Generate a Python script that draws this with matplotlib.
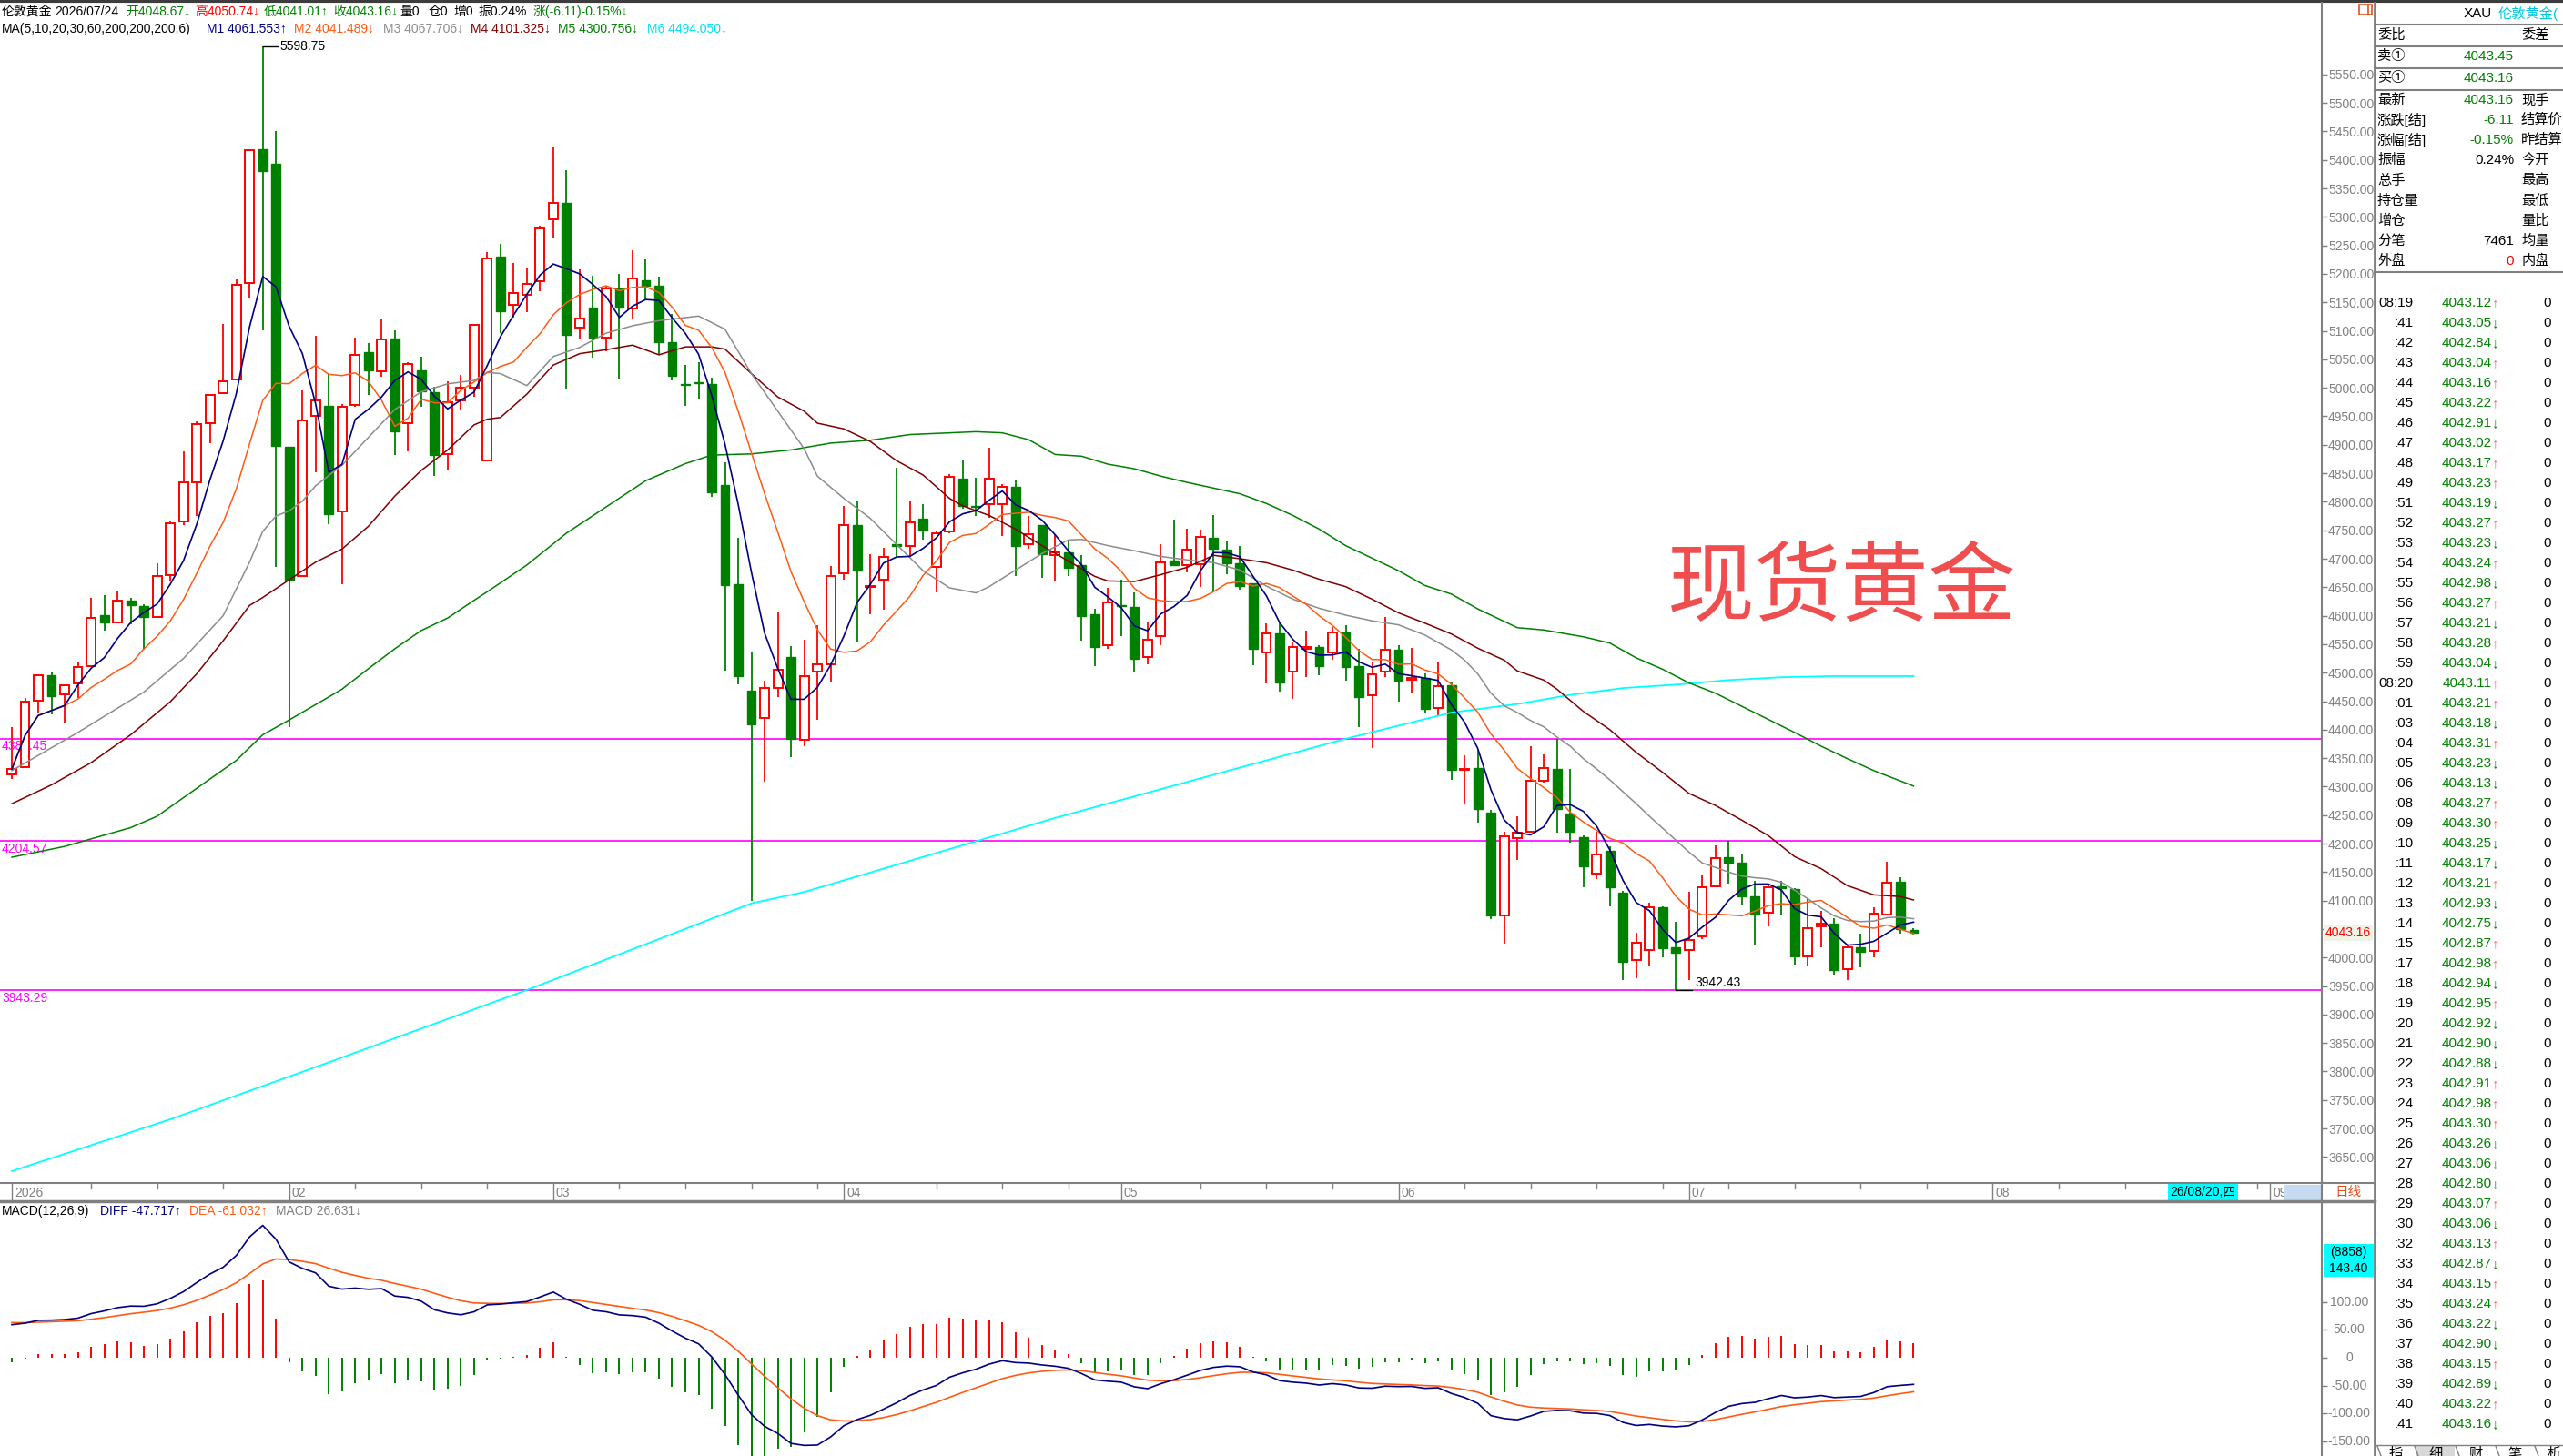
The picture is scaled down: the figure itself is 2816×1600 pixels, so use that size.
import matplotlib
matplotlib.use("Agg")
import matplotlib.pyplot as plt
from matplotlib.patches import Rectangle
from matplotlib.ticker import FormatStrFormatter
import numpy as np
import pandas as pd

plt.rcParams["font.family"] = ["Liberation Sans", "Noto Sans CJK SC", "DejaVu Sans"]
plt.rcParams["font.size"] = 10

# -----------------------------------------------
# 1. 日线数据 (2026-01-02 .. 2026-07-24)
# -----------------------------------------------
opens = [
    4321.9, 4334.4, 4450.5, 4495.1, 4461.2, 4481.7, 4511.2, 4600.5, 4588.9, 4627.3,
    4616.5, 4597.8, 4671.9, 4765.7, 4834.4, 4938.0, 4990.7, 5014.8, 5184.4, 5418.4,
    5392.5, 4896.9, 4670.1, 4950.5, 4968.3, 4783.5, 4969.2, 5063.0, 5029.1, 5087.1,
    4938.0, 5030.8, 4991.6, 4883.5, 4978.2, 5000.5, 4872.8, 5230.0, 5145.6, 5163.9,
    5187.3, 5296.1, 5324.5, 5105.0, 5140.6, 5087.7, 5174.1, 5138.5, 5188.3, 5179.2,
    5080.6, 5007.4, 5010.5, 5007.4, 4829.6, 4655.8, 4467.8, 4420.0, 4473.9, 4526.7,
    4382.4, 4501.3, 4514.5, 4674.1, 4759.4, 4650.7, 4662.9, 4724.9, 4721.8, 4769.6,
    4685.3, 4748.3, 4840.8, 4792.9, 4795.6, 4796.6, 4826.4, 4725.3, 4759.3, 4705.6,
    4711.4, 4689.1, 4602.8, 4547.9, 4618.8, 4615.6, 4528.2, 4563.9, 4697.0, 4689.6,
    4690.1, 4737.0, 4716.7, 4692.2, 4656.6, 4535.7, 4569.2, 4501.6, 4541.5, 4544.7,
    4535.2, 4570.8, 4511.7, 4460.1, 4501.6, 4540.5, 4487.2, 4491.0, 4437.7, 4477.6,
    4329.7, 4332.4, 4254.3, 4073.3, 4210.3, 4220.4, 4310.6, 4330.8, 4252.7, 4211.3,
    4146.6, 4187.4, 4114.2, 3995.8, 4013.3, 4087.6, 4018.1, 4013.3, 4037.2, 4124.8,
    4176.3, 4166.2, 4107.3, 4078.6, 4124.8, 4120.0, 4001.6, 4054.7, 4060.0, 3979.9,
    4018.6, 4011.7, 4075.4, 4133.3, 4048.67]
highs = [
    4404.0, 4455.8, 4497.8, 4500.5, 4479.9, 4517.4, 4631.7, 4636.2, 4643.3, 4631.7,
    4620.1, 4691.5, 4765.7, 4888.0, 4941.6, 4989.8, 5112.1, 5189.8, 5419.3, 5598.75,
    5451.4, 4896.9, 4996.0, 5091.6, 5023.7, 4971.0, 5088.0, 5079.1, 5120.1, 5100.5,
    5045.1, 5054.1, 5002.3, 5011.2, 5021.9, 5111.2, 5238.9, 5253.4, 5219.8, 5209.7,
    5283.9, 5422.1, 5382.4, 5208.7, 5197.5, 5177.1, 5200.5, 5242.2, 5224.9, 5194.4,
    5129.4, 5039.9, 5045.0, 5017.6, 4869.2, 4737.1, 4536.9, 4486.1, 4605.0, 4546.0,
    4557.2, 4582.6, 4687.3, 4793.0, 4801.1, 4708.6, 4719.8, 4859.0, 4801.1, 4796.0,
    4750.3, 4848.9, 4874.3, 4842.4, 4895.1, 4831.2, 4837.6, 4775.8, 4759.3, 4741.2,
    4733.2, 4705.6, 4612.9, 4649.1, 4663.0, 4641.7, 4588.4, 4725.8, 4768.9, 4753.0,
    4751.4, 4776.9, 4730.6, 4722.6, 4656.6, 4586.3, 4590.5, 4555.4, 4573.5, 4548.5,
    4581.0, 4584.1, 4541.5, 4517.6, 4598.5, 4548.5, 4543.7, 4498.9, 4517.6, 4483.0,
    4354.7, 4365.3, 4259.1, 4220.9, 4248.5, 4370.6, 4356.3, 4384.4, 4330.8, 4214.0,
    4220.9, 4195.4, 4116.8, 4044.1, 4096.7, 4089.2, 4062.7, 4115.8, 4144.4, 4196.5,
    4204.4, 4180.5, 4134.4, 4129.0, 4134.4, 4121.1, 4102.5, 4081.3, 4069.0, 4021.3,
    4041.4, 4088.2, 4167.3, 4141.3, 4050.74]
lows = [
    4312.9, 4332.6, 4430.8, 4426.3, 4411.2, 4455.8, 4509.4, 4573.7, 4587.1, 4584.4,
    4539.8, 4597.8, 4661.2, 4759.4, 4774.6, 4902.3, 4990.7, 5014.8, 5158.5, 5100.5,
    4685.3, 4404.0, 4670.1, 4852.3, 4761.2, 4655.8, 4966.6, 4988.0, 5020.1, 4881.7,
    4888.0, 4966.6, 4845.1, 4854.9, 4962.1, 4984.4, 4872.8, 5095.8, 5123.3, 5133.4,
    5170.0, 5263.5, 4999.3, 5086.7, 5053.2, 5064.3, 5016.6, 5121.2, 5153.8, 5057.2,
    5012.5, 4968.8, 4979.0, 4808.2, 4503.3, 4478.9, 4099.9, 4308.2, 4457.6, 4351.9,
    4371.2, 4418.0, 4484.0, 4663.9, 4555.2, 4602.9, 4610.1, 4702.5, 4702.5, 4733.0,
    4641.6, 4745.2, 4787.9, 4775.8, 4771.6, 4740.7, 4670.4, 4718.3, 4667.2, 4660.8,
    4670.4, 4556.5, 4512.3, 4541.5, 4563.9, 4502.7, 4514.9, 4549.0, 4688.5, 4676.8,
    4651.2, 4642.7, 4673.6, 4646.4, 4513.9, 4481.9, 4467.5, 4454.8, 4492.0, 4495.2,
    4522.4, 4485.6, 4404.2, 4368.5, 4492.0, 4450.0, 4464.3, 4428.1, 4425.5, 4312.6,
    4268.7, 4236.8, 4066.9, 4023.9, 4170.5, 4220.4, 4306.9, 4219.3, 4202.3, 4122.7,
    4137.0, 4090.3, 3960.2, 3963.4, 3984.1, 4001.1, 3942.43, 3960.8, 4031.9, 4122.7,
    4129.0, 4092.9, 4022.3, 4054.2, 4073.3, 3986.8, 3984.1, 4017.6, 3969.8, 3960.2,
    3982.0, 4000.0, 4075.4, 4041.4, 4041.01]
closes = [
    4330.8, 4448.7, 4495.1, 4459.4, 4478.1, 4509.4, 4596.0, 4588.9, 4627.3, 4618.3,
    4597.8, 4670.1, 4763.0, 4834.4, 4937.1, 4988.0, 5011.2, 5180.8, 5416.6, 5380.9,
    4897.8, 4663.0, 4942.4, 4977.3, 4779.0, 4966.6, 5058.5, 5030.8, 5085.3, 4923.7,
    5041.6, 4993.3, 4881.7, 4975.5, 5000.5, 5111.2, 5227.3, 5134.5, 5166.0, 5182.2,
    5279.8, 5324.5, 5092.8, 5121.2, 5088.7, 5174.1, 5141.6, 5191.4, 5179.2, 5080.6,
    5021.7, 5005.4, 5008.5, 4816.4, 4653.8, 4494.2, 4409.8, 4472.9, 4505.4, 4384.4,
    4494.2, 4514.5, 4669.0, 4758.4, 4679.2, 4652.7, 4702.5, 4722.9, 4763.5, 4749.3,
    4744.2, 4843.8, 4793.0, 4791.8, 4840.3, 4825.9, 4722.6, 4742.8, 4708.2, 4710.9,
    4684.8, 4600.1, 4545.8, 4623.0, 4617.7, 4524.0, 4557.5, 4693.3, 4688.5, 4715.7,
    4738.0, 4718.3, 4691.7, 4652.8, 4542.6, 4568.7, 4483.5, 4544.7, 4544.7, 4512.3,
    4570.3, 4509.6, 4457.9, 4496.8, 4540.5, 4486.7, 4491.0, 4437.2, 4476.6, 4330.1,
    4330.8, 4261.2, 4073.3, 4212.4, 4219.3, 4310.1, 4331.9, 4260.2, 4220.9, 4159.8,
    4180.5, 4123.7, 3992.1, 4026.6, 4088.2, 4016.0, 4008.5, 4030.8, 4123.2, 4174.2,
    4165.7, 4106.7, 4074.9, 4123.7, 4121.1, 4001.6, 4051.0, 4060.0, 3977.7, 4018.1,
    4009.6, 4077.0, 4131.7, 4049.27, 4043.16]

# 均线 (读图取点, 第几根K线 -> 数值)
ma20_at = [1, 6, 11, 14, 17, 19, 20, 21, 22, 23, 24, 26, 28, 30, 32, 34, 36, 37, 38, 40,
           42, 44, 46, 48, 50, 53, 55, 57, 59, 61, 62, 64, 66, 68, 70, 72, 74, 75, 77, 79,
           81, 82, 84, 86, 88, 90, 92, 94, 96, 98, 100, 102, 104, 106, 108, 110, 111, 112, 113, 114,
           115, 116, 117, 118, 119, 120, 121, 122, 123, 124, 125, 126, 127, 128, 129, 130, 131, 132, 133, 134,
           135, 136, 137, 138, 139, 140, 141, 142, 143, 144, 145]
ma20_val = [4328, 4395, 4466, 4525, 4600, 4694, 4748, 4775, 4784, 4801, 4828, 4864, 4913, 4962, 4993, 5007, 5013, 5027, 5025, 5004,
            5055, 5071, 5096, 5109, 5118, 5126, 5103, 5025, 4959, 4893, 4845, 4806, 4771, 4725, 4679, 4649, 4640, 4651, 4680, 4709,
            4733, 4734, 4723, 4714, 4704, 4698, 4693, 4680, 4652, 4629, 4613, 4601, 4591, 4584, 4566, 4540, 4522, 4498, 4464, 4442,
            4430, 4416, 4405, 4387, 4371, 4349, 4331, 4312, 4291, 4270, 4248, 4227, 4206, 4185, 4166, 4158, 4150, 4143, 4140, 4138,
            4132, 4118, 4103, 4087, 4073, 4065, 4063, 4064, 4070, 4071, 4068]
ma30_at = [1, 4, 7, 10, 13, 15, 17, 19, 20, 22, 24, 26, 28, 30, 32, 34, 36, 37, 38, 40,
           42, 44, 46, 48, 50, 52, 54, 55, 57, 59, 61, 62, 64, 66, 68, 70, 72, 73, 75, 77,
           79, 81, 83, 84, 86, 88, 90, 92, 94, 96, 98, 100, 102, 104, 106, 108, 110, 112, 114, 115,
           117, 118, 120, 122, 124, 126, 128, 130, 132, 134, 136, 138, 140, 142, 144, 145]
ma30_val = [4270, 4303, 4342, 4391, 4449, 4498, 4556, 4618, 4632, 4663, 4694, 4717, 4757, 4810, 4855, 4891, 4935, 4945, 4948, 4989,
            5040, 5060, 5067, 5075, 5058, 5072, 5072, 5068, 5025, 4984, 4959, 4938, 4928, 4906, 4872, 4847, 4806, 4793, 4776, 4752,
            4723, 4696, 4669, 4661, 4660, 4672, 4685, 4706, 4700, 4693, 4680, 4664, 4651, 4629, 4605, 4587, 4568, 4543, 4522, 4503,
            4487, 4471, 4432, 4400, 4360, 4325, 4288, 4267, 4241, 4214, 4177, 4156, 4126, 4110, 4107, 4101]
ma60_at = [1, 5, 10, 12, 15, 18, 20, 22, 24, 26, 28, 30, 32, 34, 36, 37, 40, 43, 46, 49,
           52, 54, 57, 60, 63, 66, 69, 72, 74, 76, 78, 80, 82, 84, 86, 88, 90, 92, 94, 96,
           98, 100, 102, 104, 106, 108, 110, 112, 115, 117, 120, 122, 124, 126, 128, 130, 132, 134, 136, 138,
           140, 142, 144, 145]
ma60_val = [4176, 4195, 4228, 4248, 4297, 4346, 4391, 4417, 4444, 4471, 4507, 4542, 4574, 4596, 4627, 4642, 4689, 4745, 4791, 4837,
            4867, 4882, 4884, 4891, 4903, 4908, 4918, 4921, 4923, 4921, 4909, 4883, 4880, 4866, 4858, 4845, 4834, 4824, 4814, 4797,
            4776, 4752, 4723, 4701, 4679, 4653, 4638, 4612, 4579, 4575, 4563, 4552, 4526, 4506, 4482, 4464, 4441, 4418, 4395, 4371,
            4349, 4328, 4310, 4301]
ma200_at = [1, 13, 25, 40, 57, 61, 67, 74, 80, 102, 110, 115, 119, 123, 127, 131, 135, 139, 145]
ma200_val = [3625, 3716, 3816, 3943, 4095, 4115, 4156, 4204, 4245, 4384, 4430, 4445, 4461, 4473, 4479, 4487, 4492, 4494, 4494]

# MACD 起始状态 (读图: DIFF≈67, DEA≈64)
ema12_start = 4365.0
ema26_start = 4298.0
dea_start = 64.0

levels = [4384.45, 4204.57, 3943.29]

tick_times = ["08:19", ":41", ":42", ":43", ":44", ":45", ":46", ":47", ":48", ":49",
              ":51", ":52", ":53", ":54", ":55", ":56", ":57", ":58", ":59", "08:20",
              ":01", ":03", ":04", ":05", ":06", ":08", ":09", ":10", ":11", ":12",
              ":13", ":14", ":15", ":17", ":18", ":19", ":20", ":21", ":22", ":23",
              ":24", ":25", ":26", ":27", ":28", ":29", ":30", ":32", ":33", ":34",
              ":35", ":36", ":37", ":38", ":39", ":40", ":41"]
tick_prices = [4043.12, 4043.05, 4042.84, 4043.04, 4043.16, 4043.22, 4042.91, 4043.02, 4043.17, 4043.23,
               4043.19, 4043.27, 4043.23, 4043.24, 4042.98, 4043.27, 4043.21, 4043.28, 4043.04, 4043.11,
               4043.21, 4043.18, 4043.31, 4043.23, 4043.13, 4043.27, 4043.30, 4043.25, 4043.17, 4043.21,
               4042.93, 4042.75, 4042.87, 4042.98, 4042.94, 4042.95, 4042.92, 4042.90, 4042.88, 4042.91,
               4042.98, 4043.30, 4043.26, 4043.06, 4042.80, 4043.07, 4043.06, 4043.13, 4042.87, 4043.15,
               4043.24, 4043.22, 4042.90, 4043.15, 4042.89, 4043.22, 4043.16]

info_left = ["最新", "涨跌[结]", "涨幅[结]", "振幅", "总手", "持仓量", "增仓", "分笔", "外盘"]
info_value = ["4043.16", "-6.11", "-0.15%", "0.24%", "", "", "", "7461", "0"]
info_right = ["现手", "结算价", "昨结算", "今开", "最高", "最低", "量比", "均量", "内盘"]

# -----------------------------------------------
# 2. 指标计算
# -----------------------------------------------
days = pd.bdate_range("2026-01-02", "2026-07-24")
days = days[days != pd.Timestamp("2026-04-03")]
future = pd.bdate_range("2026-07-27", "2026-10-15")
all_days = days.append(future)

x = np.arange(len(closes))
cs = pd.Series(closes)
ma5 = cs.rolling(5, min_periods=1).mean()
ma10 = cs.rolling(10, min_periods=1).mean()

e12, e26, d = ema12_start, ema26_start, dea_start
diff, dea = [], []
for c in closes:
    e12 = e12 + (c - e12) * 2 / 13
    e26 = e26 + (c - e26) * 2 / 27
    dv = e12 - e26
    d = d + (dv - d) * 2 / 10
    diff.append(dv)
    dea.append(d)
diff = np.array(diff)
dea = np.array(dea)
macd_bar = 2 * (diff - dea)
print("DIFF", diff[-1], "DEA", dea[-1])

# -----------------------------------------------
# 3. 作图
# -----------------------------------------------
W, H = 2816, 1600
fig = plt.figure(figsize=(W / 100, H / 100), dpi=100)
fig.patch.set_facecolor("white")


def rect(x0, y0, x1, y1):
    return [x0 / W, 1 - y1 / H, (x1 - x0) / W, (y1 - y0) / H]


XL = ((0 - 13) / 14.51, (2551 - 13) / 14.51)
GRAY = "#808080"
RED = "#FF0000"
GREEN = "#008000"

ax = fig.add_axes(rect(0, 0, 2551, 1300))
ax.set_xlim(*XL)
ax.set_ylim(3604.2, 5680.8)
for s in ax.spines.values():
    s.set_visible(False)
ax.set_xticks([])
ax.yaxis.tick_right()
ax.set_yticks(np.arange(3650, 5551, 50))
ax.yaxis.set_major_formatter(FormatStrFormatter("%.2f"))
ax.tick_params(axis="y", colors=GRAY, length=4, width=1, pad=1, labelsize=10)

for lv in levels:
    ax.axhline(lv, color="#FF00FF", lw=1.2, zorder=1)
    ax.text(2 / 2551, lv - 3, f"{lv:.2f}", transform=ax.get_yaxis_transform(),
            color="#FF00FF", fontsize=10, ha="left", va="top")

up = np.array(closes) >= np.array(opens)
ax.vlines(x, lows, highs, colors=[RED if u else GREEN for u in up], lw=1.3, zorder=2)
for i in range(len(closes)):
    lo = min(opens[i], closes[i])
    hh = max(abs(closes[i] - opens[i]), 0.9)
    if up[i]:
        ax.add_patch(Rectangle((i - 0.34, lo), 0.68, hh, facecolor="white",
                               edgecolor=RED, lw=1.4, zorder=3))
    else:
        ax.add_patch(Rectangle((i - 0.34, lo), 0.68, hh, facecolor=GREEN,
                               edgecolor=GREEN, lw=1.0, zorder=3))

ax.plot(np.array(ma200_at) - 1, ma200_val, color="#00FFFF", lw=1.3, zorder=4)
ax.plot(np.array(ma60_at) - 1, ma60_val, color="#008000", lw=1.1, zorder=4)
ax.plot(np.array(ma30_at) - 1, ma30_val, color="#800000", lw=1.1, zorder=4)
ax.plot(np.array(ma20_at) - 1, ma20_val, color="#8C8C8C", lw=1.1, zorder=4)
ax.plot(x, ma10, color="#FF5A14", lw=1.1, zorder=4)
ax.plot(x, ma5, color="#000080", lw=1.2, zorder=4)

hi_i = int(np.argmax(highs))
lo_i = int(np.argmin(lows))
ax.plot([hi_i, hi_i + 1.15], [highs[hi_i]] * 2, color="black", lw=1)
ax.text(hi_i + 1.3, highs[hi_i], f"{highs[hi_i]:.2f}", fontsize=10, va="center", ha="left")
ax.plot([lo_i, lo_i + 1.25], [lows[lo_i]] * 2, color="black", lw=1)
ax.text(lo_i + 1.45, lows[lo_i] + 2, f"{lows[lo_i]:.2f}", fontsize=10, va="bottom", ha="left")

ax.text(1 + 4 / 2551, closes[-1], f"{closes[-1]:.2f}", transform=ax.get_yaxis_transform(),
        color=RED, fontsize=10, ha="left", va="center", zorder=10, clip_on=False,
        bbox=dict(facecolor="#EEF3E6", edgecolor="none", pad=1.5))

# 日期条
ax_s = fig.add_axes(rect(0, 1300, 2551, 1320))
ax_s.set_xlim(*XL)
ax_s.set_ylim(0, 1)
ax_s.axis("off")
month_first = [i for i in range(len(all_days)) if i == 0 or all_days[i].month != all_days[i - 1].month]
last_first = 0
for i in range(len(all_days)):
    if i > XL[1]:
        break
    if i in month_first:
        last_first = i
        ax_s.plot([i, i], [1, 0.1], color=GRAY, lw=1)
        lab = "2026" if i == 0 else f"{all_days[i].month:02d}"
        ax_s.text(i + 0.2, 0.45, lab, color=GRAY, fontsize=10, va="center", ha="left")
    elif all_days[i].weekday() == 0 and i - last_first >= 3:
        ax_s.plot([i, i], [1, 0.72], color=GRAY, lw=1)

# MACD
ax2 = fig.add_axes(rect(0, 1320, 2551, 1600))
ax2.set_xlim(*XL)
ax2.set_ylim(-176.5, 281)
for s in ax2.spines.values():
    s.set_visible(False)
ax2.set_xticks([])
ax2.yaxis.tick_right()
macd_ticks = [100, 50, 0, -50, -100, -150]
ax2.set_yticks(macd_ticks)
ax2.set_yticklabels([])
ax2.tick_params(axis="y", colors=GRAY, length=4, width=1)
for v in macd_ticks:
    ax2.text(1 + 30 / 2551, v, "0" if v == 0 else f"{v:.2f}", transform=ax2.get_yaxis_transform(),
             color=GRAY, fontsize=10, ha="center", va="center", clip_on=False)
ax2.vlines(x, 0, macd_bar, colors=[RED if b >= 0 else GREEN for b in macd_bar], lw=1.4)
ax2.plot(x, dea, color="#FF5A14", lw=1.2)
ax2.plot(x, diff, color="#000080", lw=1.2)

# -----------------------------------------------
# 4. 界面文字与面板
# -----------------------------------------------
ov = fig.add_axes([0, 0, 1, 1], zorder=5)
ov.set_xlim(0, W)
ov.set_ylim(H, 0)
ov.axis("off")


def t(xp, yp, s, c="black", **kw):
    kw.setdefault("fontsize", 10)
    kw.setdefault("ha", "left")
    kw.setdefault("va", "center")
    ov.text(xp, yp, s, color=c, **kw)


ov.plot([0, W], [1, 1], color="#3C3C3C", lw=3)
ov.plot([2551, 2551], [3, H], color=GRAY, lw=1.5)
ov.plot([2609, 2609], [3, H], color=GRAY, lw=2)
ov.plot([0, 2609], [1300, 1300], color=GRAY, lw=1.5)
ov.plot([0, 2609], [1320, 1320], color=GRAY, lw=2.5)

# 标题行
t(2, 13, "伦敦黄金")
t(60, 13, "2026/07/24")
t(138, 13, "开4048.67↓", GREEN)
t(214, 13, "高4050.74↓", RED)
t(290, 13, "低4041.01↑", GREEN)
t(366, 13, "收4043.16↓", GREEN)
t(439, 13, "量0")
t(471, 13, "仓0")
t(498, 13, "增0")
t(525, 13, "振0.24%")
t(586, 13, "涨(-6.11)-0.15%↓", GREEN)
t(2, 32, "MA(5,10,20,30,60,200,200,200,6)")
t(227, 32, "M1 4061.553↑", "#000080")
t(323, 32, "M2 4041.489↓", "#FF5A14")
t(421, 32, "M3 4067.706↓", "#8C8C8C")
t(517, 32, "M4 4101.325↓", "#800000")
t(613, 32, "M5 4300.756↓", GREEN)
t(711, 32, "M6 4494.050↓", "#00E0F0")

t(1832, 647, "现货黄金", "#F04E4E", fontsize=69, family=["Noto Sans CJK SC"])

t(2, 1331, "MACD(12,26,9)")
t(110, 1331, "DIFF -47.717↑", "#000080")
t(208, 1331, "DEA -61.032↑", "#FF5A14")
t(303, 1331, "MACD 26.631↓", GRAY)

# 日期条右侧
ov.add_patch(Rectangle((2382, 1301), 77, 18, facecolor="#00FFFF", edgecolor="none"))
t(2420, 1310, "26/08/20,四", ha="center")
ov.add_patch(Rectangle((2510, 1302), 41, 17, facecolor="#C6DBF2", edgecolor="none"))
t(2580, 1310, "日线", "#E0501A", ha="center", fontsize=10.5)

ov.add_patch(Rectangle((2553, 1367), 55, 36, facecolor="#00FFFF", edgecolor="none"))
t(2580, 1376, "(8858)", ha="center")
t(2580, 1394, "143.40", ha="center")

ov.add_patch(Rectangle((2592, 5), 14, 11, facecolor="none", edgecolor="#E0501A", lw=1.2))
ov.plot([2602, 2602], [5, 16], color="#E0501A", lw=1.2)

# 右侧报价面板
for yl in [27, 51, 75, 99, 299]:
    ov.plot([2609, W], [yl, yl], color=GRAY, lw=1.5)
t(2707, 15, "XAU", fontsize=11)
t(2745, 15, "伦敦黄金(", "#00C8E0", fontsize=11)
t(2612, 39, "委比", fontsize=11)
t(2770, 39, "委差", fontsize=11)
t(2612, 62, "卖①", fontsize=11)
t(2762, 62, "4043.45", GREEN, fontsize=11, ha="right")
t(2612, 86, "买①", fontsize=11)
t(2762, 86, "4043.16", GREEN, fontsize=11, ha="right")
val_colors = [GREEN, GREEN, GREEN, "black", "black", "black", "black", "black", RED]
for k in range(len(info_left)):
    yy = 110 + 22.1 * k
    t(2612, yy, info_left[k], fontsize=11)
    t(2762, yy, info_value[k], val_colors[k], fontsize=11, ha="right")
    t(2770, yy, info_right[k], fontsize=11)

for k in range(len(tick_times)):
    yy = 333 + 22 * k
    t(2652, yy, tick_times[k], fontsize=11, ha="right")
    t(2738, yy, f"{tick_prices[k]:.2f}", GREEN, fontsize=11, ha="right")
    rise = k == 0 or tick_prices[k] > tick_prices[k - 1]
    t(2738, yy, "↑" if rise else "↓", "#FF6060" if rise else GREEN, fontsize=11)
    t(2803, yy, "0", fontsize=11, ha="right")

ov.plot([2609, W], [1588, 1588], color=GRAY, lw=1)
ov.add_patch(Rectangle((2655, 1589), 42, 11, facecolor="#D8D8D8", edgecolor="none"))
for xs in [2612, 2653, 2698, 2742, 2785]:
    ov.plot([xs, xs + 4], [1589, 1600], color=GRAY, lw=1)
for xs, s in zip([2632, 2676, 2720, 2763, 2806], ["指", "细", "财", "笔", "析"]):
    t(xs, 1591, s, fontsize=11, ha="center", va="top")

fig.savefig("out.png", dpi=100)
